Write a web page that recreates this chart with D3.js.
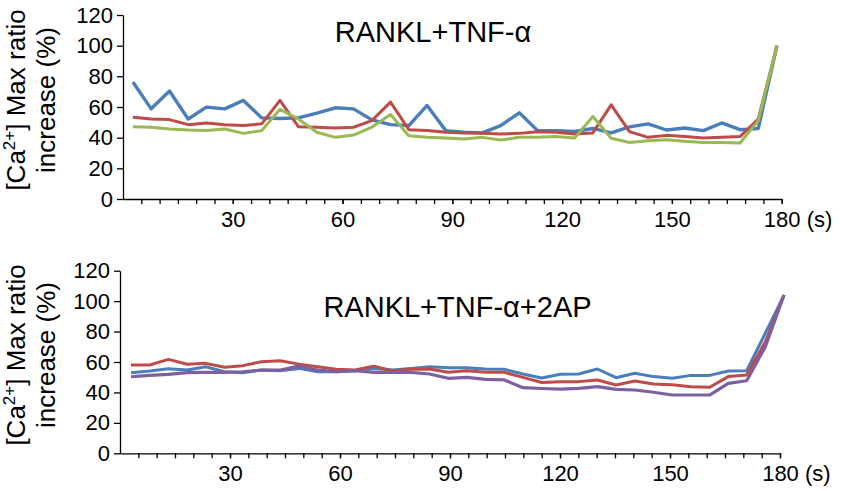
<!DOCTYPE html>
<html>
<head>
<meta charset="utf-8">
<script src="https://cdn.jsdelivr.net/npm/d3@7"></script>
<style>
  body { margin: 0; background: #fff; }
  svg { display: block; font-family: "Liberation Sans", Arial, sans-serif; }
  .axis path, .axis line { stroke: #000; stroke-width: 1.3; }
  .axis text { fill: #000; }
</style>
</head>
<body>
<div class="charts-container"></div>
<script>
"use strict";

// Sampling times (s) of each panel
const topTimes = [2.7, 7.7, 12.7, 17.8, 22.8, 27.8, 32.9, 37.9, 42.9, 47.9, 53.0, 58.0,
  63.0, 68.0, 73.1, 78.1, 83.1, 88.2, 93.2, 98.2, 103.2, 108.3, 113.3, 118.3,
  123.4, 128.4, 133.4, 138.4, 143.5, 148.5, 153.5, 158.6, 163.6, 168.6, 173.6, 178.7];

const bottomTimes = [3.0, 8.1, 13.2, 18.3, 23.4, 28.5, 33.5, 38.6, 43.7, 48.8, 53.9, 59.0,
  64.1, 69.2, 74.3, 79.3, 84.4, 89.5, 94.6, 99.7, 104.8, 109.9, 115.0, 120.1,
  125.1, 130.2, 135.3, 140.4, 145.5, 150.6, 155.7, 160.8, 165.9, 170.9, 176.0, 181.1];

// RANKL+TNF-α
const topBlue = [76.3, 58.8, 70.4, 52.2, 59.9, 58.8, 64.3, 52.9, 52.5, 52.9, 56.0, 59.5,
  58.8, 51.6, 48.5, 47.9, 61.0, 44.6, 43.5, 43.1, 47.9, 56.2, 44.6, 44.6,
  44.0, 46.0, 43.1, 47.0, 49.0, 45.0, 46.3, 44.6, 49.6, 45.2, 46.0, 100];

const topRed = [53.3, 52.2, 51.8, 48.5, 49.6, 48.5, 47.9, 49.0, 64.3, 47.2, 46.8, 46.3,
  46.8, 51.1, 63.2, 45.2, 44.6, 43.5, 43.1, 42.8, 42.4, 42.8, 43.9, 43.5,
  42.4, 43.1, 61.4, 43.9, 40.2, 41.5, 40.7, 39.8, 40.2, 40.7, 52.2, 100];

const topGreen = [47.2, 46.8, 45.7, 45.0, 44.6, 45.7, 42.8, 44.6, 58.5, 52.2, 43.5, 40.2,
  41.7, 46.8, 55.1, 41.3, 40.2, 39.8, 39.1, 40.2, 38.5, 40.2, 40.2, 40.7,
  39.8, 53.8, 39.6, 36.9, 38.0, 38.7, 37.6, 36.9, 36.9, 36.5, 51.1, 100];

// RANKL+TNF-α+2AP
const bottomBlue = [53.0, 54.1, 55.6, 54.7, 56.9, 53.6, 53.0, 54.7, 54.3, 55.8, 53.6, 53.6,
  54.3, 55.8, 54.7, 55.8, 56.9, 56.2, 56.2, 55.4, 55.2, 52.1, 49.5, 51.9,
  52.1, 55.4, 49.7, 52.6, 50.4, 49.3, 51.2, 51.2, 54.1, 54.3, 79.0, 104];

const bottomRed = [58.0, 58.0, 61.7, 58.5, 59.1, 56.5, 57.6, 60.2, 60.8, 58.6, 56.9, 55.3,
  54.7, 57.3, 54.3, 55.2, 55.4, 53.2, 54.3, 53.2, 53.2, 49.9, 46.5, 47.1,
  47.1, 48.2, 44.9, 47.5, 45.5, 45.0, 43.8, 43.4, 50.4, 51.4, 73.3, 104];

const bottomPurple = [50.3, 51.2, 51.9, 53.0, 53.2, 53.2, 53.6, 54.7, 54.7, 57.3, 54.7, 53.6,
  54.3, 53.2, 53.2, 53.2, 52.1, 49.3, 49.9, 48.6, 48.2, 43.1, 42.6, 42.2,
  42.7, 43.8, 42.0, 41.6, 40.1, 38.3, 38.3, 38.3, 46.0, 47.7, 70.1, 104];

// Axis ticks
const xTickLabels = [30, 60, 90, 120, 150, 180];
const yTickLabels = [0, 20, 40, 60, 80, 100, 120];

const panels = [
  {
    title: "RANKL+TNF-α",
    times: topTimes,
    series: [
      { values: topBlue, color: "#4a7ebb", width: 3.4 },
      { values: topRed, color: "#be4b48", width: 3 },
      { values: topGreen, color: "#98b954", width: 3 }
    ],
    x: [123, 781.7], y: [199, 15], titleX: 433, titleY: 41.7, labelY: 100
  },
  {
    title: "RANKL+TNF-α+2AP",
    times: bottomTimes,
    series: [
      { values: bottomBlue, color: "#4a7ebb", width: 3 },
      { values: bottomRed, color: "#be4b48", width: 3 },
      { values: bottomPurple, color: "#7d60a0", width: 3.2 }
    ],
    x: [120, 780], y: [453.3, 270.7], titleX: 457.5, titleY: 316.7, labelY: 355
  }
];

const width = 843;
const height = 491;

const svg = d3.select(".charts-container")
  .append("svg")
    .attr("width", width)
    .attr("height", height)
    .attr("viewBox", `0 0 ${width} ${height}`);

panels.forEach(p => {
  const xScale = d3.scaleLinear()
    .domain([0, 180])
    .range(p.x);

  const yScale = d3.scaleLinear()
    .domain([0, 120])
    .range(p.y);

  // Minor ticks every 5 s
  svg.append("g")
      .attr("class", "axis")
      .attr("transform", `translate(0, ${p.y[0]})`)
      .call(d3.axisBottom(xScale)
        .tickValues(d3.range(5, 181, 5))
        .tickSize(5)
        .tickSizeOuter(0)
        .tickFormat(""));

  // Labelled ticks
  const xAxis = svg.append("g")
      .attr("class", "axis")
      .attr("transform", `translate(0, ${p.y[0]})`)
      .call(d3.axisBottom(xScale)
        .tickValues(xTickLabels)
        .tickSize(5)
        .tickSizeOuter(0)
        .tickPadding(7));
  xAxis.select(".domain").remove();
  xAxis.selectAll("text").attr("font-size", 22);

  svg.append("text")
      .attr("x", xScale(180) + 25)
      .attr("y", p.y[0] + 28)
      .attr("font-size", 22)
      .text("(s)");

  const yAxis = svg.append("g")
      .attr("class", "axis")
      .attr("transform", `translate(${p.x[0]}, 0)`)
      .call(d3.axisLeft(yScale)
        .tickValues(yTickLabels)
        .tickSize(6)
        .tickSizeOuter(0)
        .tickPadding(4));
  yAxis.selectAll("text").attr("font-size", 22);

  // Lines
  const line = d3.line()
    .x((d, i) => xScale(p.times[i]))
    .y(d => yScale(d));

  p.series.forEach(s => {
    svg.append("path")
        .attr("d", line(s.values))
        .attr("fill", "none")
        .attr("stroke", s.color)
        .attr("stroke-width", s.width)
        .attr("stroke-linejoin", "round");
  });

  // Panel title
  svg.append("text")
      .attr("x", p.titleX)
      .attr("y", p.titleY)
      .attr("text-anchor", "middle")
      .attr("font-size", 29)
      .text(p.title);

  // Y-axis title, two lines
  const yTitle = svg.append("text")
      .attr("transform", `translate(25, ${p.labelY}) rotate(-90)`)
      .attr("text-anchor", "middle")
      .attr("font-size", 26);
  yTitle.append("tspan").text("[Ca");
  yTitle.append("tspan")
      .attr("font-size", 17)
      .attr("dy", -10)
      .text("2+");
  yTitle.append("tspan")
      .attr("dy", 10)
      .text("] Max ratio");

  svg.append("text")
      .attr("transform", `translate(55, ${p.labelY}) rotate(-90)`)
      .attr("text-anchor", "middle")
      .attr("font-size", 26)
      .text("increase (%)");
});
</script>
</body>
</html>
